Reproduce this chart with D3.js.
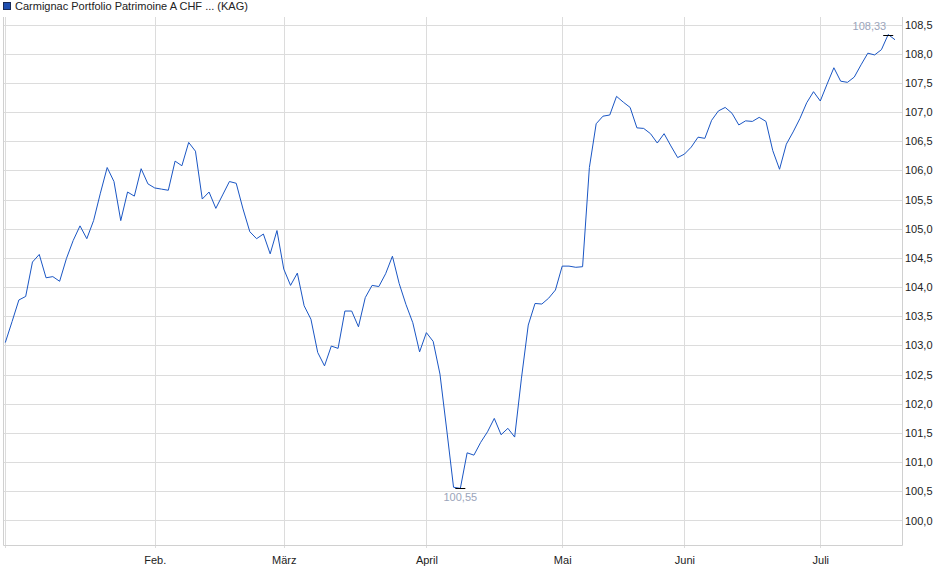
<!DOCTYPE html>
<html>
<head>
<meta charset="utf-8">
<script src="https://cdn.jsdelivr.net/npm/d3@7"></script>
<style>
	body { margin: 0; background: #fff; }
	text { font-family: 'Liberation Sans', Arial, sans-serif; }
</style>
</head>
<body>
<script>
// DATA (one value per trading day)
const seriesName = 'Carmignac Portfolio Patrimoine A CHF ... (KAG)';
const prices = [
	103.05, 103.41, 103.78, 103.84, 104.43, 104.56, 104.16, 104.18, 104.10, 104.49,
	104.80, 105.05, 104.83, 105.14, 105.61, 106.05, 105.81, 105.14, 105.63, 105.56,
	106.03, 105.77, 105.70, 105.68, 105.66, 106.16, 106.08, 106.48, 106.33, 105.51,
	105.63, 105.35, 105.58, 105.81, 105.78, 105.34, 104.95, 104.83, 104.91, 104.57,
	104.97, 104.31, 104.03, 104.24, 103.68, 103.45, 102.88, 102.65, 102.99, 102.95,
	103.59, 103.59, 103.32, 103.82, 104.03, 104.01, 104.23, 104.53, 104.06, 103.70,
	103.39, 102.89, 103.22, 103.07, 102.51, 101.55, 100.57, 100.55, 101.16, 101.12,
	101.34, 101.52, 101.75, 101.47, 101.58, 101.43, 102.44, 103.35, 103.72, 103.71,
	103.81, 103.95, 104.36, 104.36, 104.34, 104.35, 106.05, 106.80, 106.93, 106.95,
	107.27, 107.17, 107.08, 106.73, 106.72, 106.63, 106.47, 106.63, 106.42, 106.22,
	106.28, 106.40, 106.57, 106.55, 106.86, 107.02, 107.08, 106.98, 106.78, 106.85,
	106.84, 106.91, 106.84, 106.34, 106.02, 106.45, 106.66, 106.89, 107.16, 107.35,
	107.19, 107.48, 107.76, 107.53, 107.51, 107.60, 107.81, 108.01, 107.98, 108.07,
	108.33, 108.24
];
const monthLabels = ['', 'Feb.', 'März', 'April', 'Mai', 'Juni', 'Juli'];
const monthStart = [0, 22, 41, 62, 82, 100, 120]; // index of first trading day
const yTicks = [100.0, 100.5, 101.0, 101.5, 102.0, 102.5, 103.0, 103.5, 104.0, 104.5,
	105.0, 105.5, 106.0, 106.5, 107.0, 107.5, 108.0, 108.5];

// CONFIGURATION
const width = 940;
const height = 579;
const plot = { left: 3, right: 902, top: 17, bottom: 545 };
const lineColor = '#1a56c4';
const gridColor = '#dcdcdc';
const fmt = v => v.toFixed(2).replace('.', ',');

const svg = d3.select('body')
	.append('svg')
	.attr('width', width)
	.attr('height', height);

// SCALES
const xScale = d3.scaleLinear()
	.domain([0, prices.length - 1])
	.range([5.3, 895]);
const yScale = d3.scaleLinear()
	.domain([99.58, 108.63])
	.range([plot.bottom, plot.top]);

// GRID
svg.append('g')
	.selectAll('line')
	.data(yTicks)
	.enter()
	.append('line')
	.attr('x1', plot.left)
	.attr('x2', plot.right)
	.attr('y1', d => Math.round(yScale(d)) + 0.5)
	.attr('y2', d => Math.round(yScale(d)) + 0.5)
	.attr('stroke', gridColor);

svg.append('g')
	.selectAll('line')
	.data(monthStart)
	.enter()
	.append('line')
	.attr('x1', d => Math.round(xScale(d)) + 0.5)
	.attr('x2', d => Math.round(xScale(d)) + 0.5)
	.attr('y1', plot.top)
	.attr('y2', plot.bottom + 3)
	.attr('stroke', gridColor);

// FRAME (left, right, bottom)
svg.append('path')
	.attr('d', `M${plot.left + 0.5},${plot.top} V${plot.bottom + 0.5} H${plot.right + 0.5} V${plot.top}`)
	.attr('fill', 'none')
	.attr('stroke', '#d0d0d0');

// AXES
const yAxis = d3.axisRight(yScale)
	.tickValues(yTicks)
	.tickSize(0)
	.tickPadding(3)
	.tickFormat(d => d.toFixed(1).replace('.', ','));
svg.append('g')
	.attr('transform', `translate(${plot.right}, 0)`)
	.call(yAxis)
	.call(g => g.select('.domain').remove())
	.selectAll('text')
	.attr('font-size', 11)
	.attr('fill', '#222');

const xAxis = d3.axisBottom(xScale)
	.tickValues(monthStart)
	.tickSize(0)
	.tickPadding(11)
	.tickFormat((d, i) => monthLabels[i]);
svg.append('g')
	.attr('transform', `translate(0, ${plot.bottom})`)
	.call(xAxis)
	.call(g => g.select('.domain').remove())
	.selectAll('text')
	.attr('font-size', 11)
	.attr('fill', '#222');

// LINE
const line = d3.line()
	.x((d, i) => xScale(i))
	.y(d => yScale(d));
svg.append('path')
	.datum(prices)
	.attr('d', line)
	.attr('fill', 'none')
	.attr('stroke', lineColor)
	.attr('stroke-width', 1);

// MIN / MAX MARKERS
const maxIdx = d3.maxIndex(prices);
const minIdx = d3.minIndex(prices);
[maxIdx, minIdx].forEach(i => {
	svg.append('line')
		.attr('x1', xScale(i) - 5)
		.attr('x2', xScale(i) + 5)
		.attr('y1', Math.round(yScale(prices[i])) + 0.5)
		.attr('y2', Math.round(yScale(prices[i])) + 0.5)
		.attr('stroke', '#000');
});
svg.append('text')
	.attr('x', xScale(maxIdx) - 2)
	.attr('y', yScale(prices[maxIdx]) - 5)
	.attr('text-anchor', 'end')
	.attr('font-size', 11)
	.attr('fill', '#9aa4ba')
	.text(fmt(prices[maxIdx]));
svg.append('text')
	.attr('x', xScale(minIdx))
	.attr('y', yScale(prices[minIdx]) + 13)
	.attr('text-anchor', 'middle')
	.attr('font-size', 11)
	.attr('fill', '#9aa4ba')
	.text(fmt(prices[minIdx]));

// LEGEND
svg.append('rect')
	.attr('x', 3.5)
	.attr('y', 2.5)
	.attr('width', 7)
	.attr('height', 7)
	.attr('fill', '#1f4fb0')
	.attr('stroke', '#1a2a55');
svg.append('text')
	.attr('x', 15)
	.attr('y', 10)
	.attr('font-size', 11)
	.attr('fill', '#222')
	.text(seriesName);
</script>
</body>
</html>
